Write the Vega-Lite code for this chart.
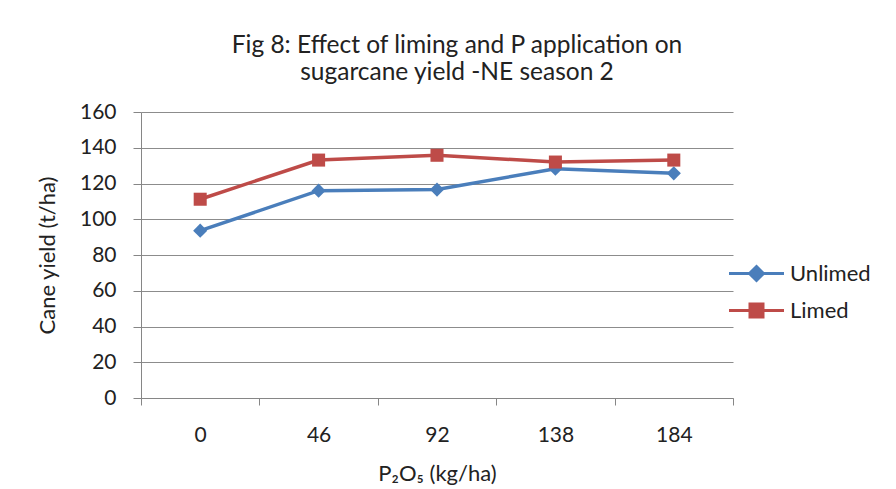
{
  "$schema": "https://vega.github.io/schema/vega-lite/v6.json",
  "width": 592,
  "height": 286,
  "autosize": {"type": "none"},
  "padding": {"left": 141, "top": 112, "right": 163, "bottom": 91},
  "background": "white",
  "config": {
    "font": "Lato, Open Sans, sans-serif",
    "view": {"stroke": null}
  },
  "title": {
    "text": ["Fig 8: Effect of liming and P application on", "sugarcane yield -NE season 2"],
    "fontSize": 24.5,
    "fontWeight": "normal",
    "color": "#222222",
    "anchor": "middle",
    "dx": 20,
    "offset": 16,
    "lineHeight": 27
  },
  "data": {
    "values": [
      {"p": "0", "series": "Unlimed", "yield": 93.6},
      {"p": "46", "series": "Unlimed", "yield": 116.0},
      {"p": "92", "series": "Unlimed", "yield": 116.6},
      {"p": "138", "series": "Unlimed", "yield": 128.3},
      {"p": "184", "series": "Unlimed", "yield": 125.7},
      {"p": "0", "series": "Limed", "yield": 111.2},
      {"p": "46", "series": "Limed", "yield": 133.1},
      {"p": "92", "series": "Limed", "yield": 135.8},
      {"p": "138", "series": "Limed", "yield": 132.0},
      {"p": "184", "series": "Limed", "yield": 133.1}
    ]
  },
  "encoding": {
    "x": {
      "field": "p",
      "type": "ordinal",
      "sort": ["0", "46", "92", "138", "184"],
      "scale": {"type": "band", "paddingInner": 0, "paddingOuter": 0},
      "axis": {
        "title": "P₂O₅ (kg/ha)",
        "labelAngle": 0,
        "tickBand": "extent",
        "grid": false,
        "domainColor": "#868686",
        "tickColor": "#868686",
        "tickSize": 7,
        "labelPadding": 19,
        "labelFontSize": 21,
        "labelColor": "#222222",
        "titleFontSize": 22,
        "titleFontWeight": "normal",
        "titleColor": "#222222",
        "titlePadding": 18
      }
    },
    "y": {
      "field": "yield",
      "type": "quantitative",
      "scale": {"domain": [0, 160]},
      "axis": {
        "title": "Cane yield (t/ha)",
        "values": [0, 20, 40, 60, 80, 100, 120, 140, 160],
        "gridColor": "#8c8c8c",
        "domainColor": "#868686",
        "tickColor": "#868686",
        "tickSize": 8,
        "labelPadding": 17,
        "labelFontSize": 21,
        "labelColor": "#222222",
        "titleFontSize": 22,
        "titleFontWeight": "normal",
        "titleColor": "#222222",
        "titlePadding": 20
      }
    }
  },
  "layer": [
    {
      "mark": {"type": "line", "strokeWidth": 3.5},
      "encoding": {
        "color": {
          "field": "series",
          "type": "nominal",
          "sort": ["Unlimed", "Limed"],
          "scale": {"domain": ["Unlimed", "Limed"], "range": ["#4a7ebb", "#be4b48"]},
          "legend": {
            "title": null,
            "orient": "none",
            "legendX": 604,
            "legendY": 150,
            "padding": 0,
            "symbolSize": 400,
            "symbolStrokeWidth": 3,
            "labelFontSize": 22,
            "labelColor": "#222222",
            "labelOffset": 22,
            "rowPadding": 11,
            "encode": {
              "symbols": {
                "update": {
                  "shape": {"signal": "datum.value === 'Unlimed' ? 'M-2.75,0H2.75M0,-0.7L0.7,0L0,0.7L-0.7,0Z' : 'M-2.75,0H2.75M-0.65,-0.65H0.65V0.65H-0.65Z'"},
                  "fill": {"signal": "datum.value === 'Unlimed' ? '#4a7ebb' : '#be4b48'"},
                  "stroke": {"signal": "datum.value === 'Unlimed' ? '#4a7ebb' : '#be4b48'"},
                  "strokeWidth": {"value": 3}
                }
              }
            }
          }
        }
      }
    },
    {
      "transform": [{"filter": "datum.series === 'Unlimed'"}],
      "mark": {"type": "point", "shape": "diamond", "filled": true, "opacity": 1, "size": 200, "color": "#4a7ebb"}
    },
    {
      "transform": [{"filter": "datum.series === 'Limed'"}],
      "mark": {"type": "point", "shape": "square", "filled": true, "opacity": 1, "size": 170, "color": "#be4b48"}
    }
  ]
}
